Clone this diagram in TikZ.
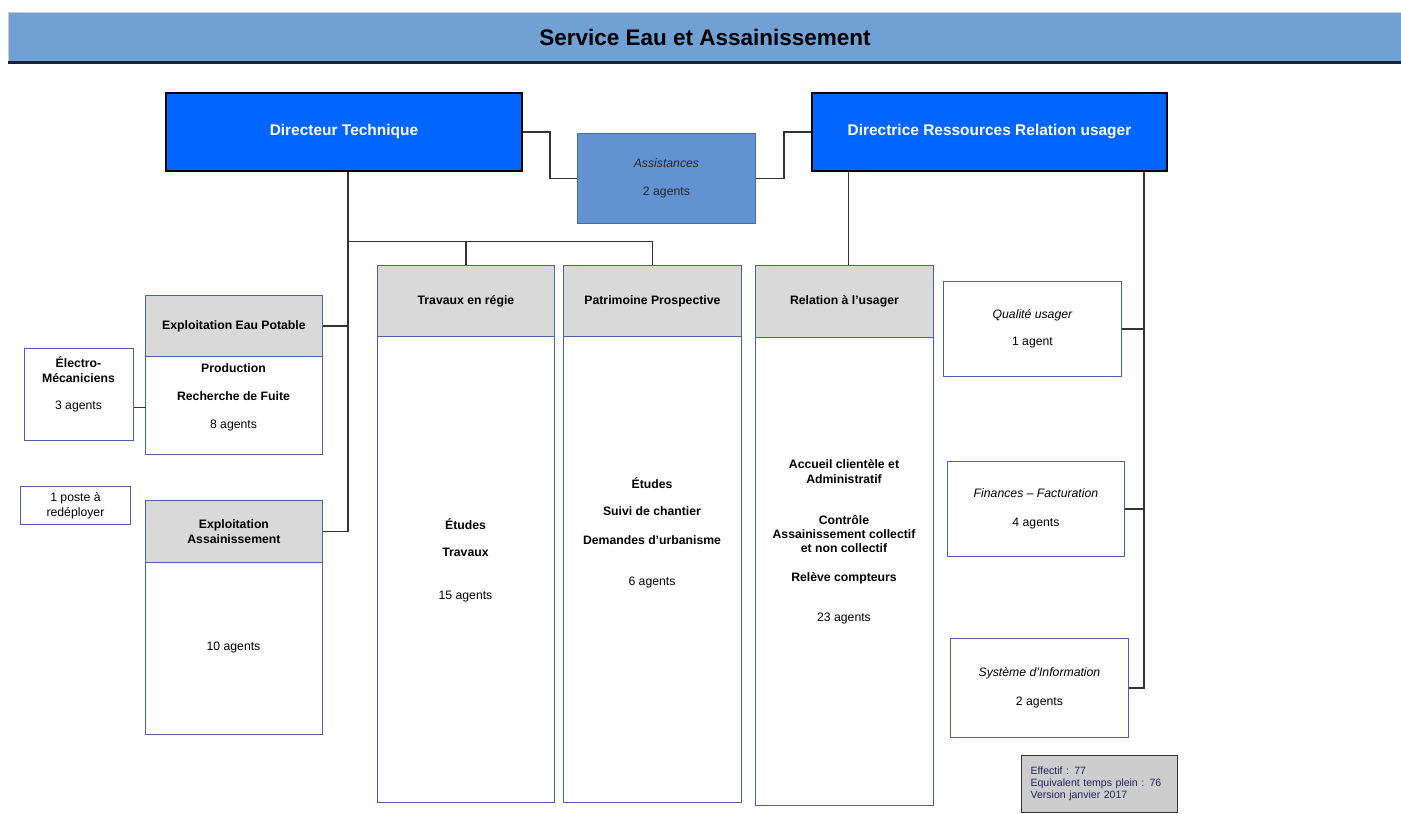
\documentclass[tikz,border=0pt]{standalone}
\usepackage{fontspec}
\setmainfont{Liberation Sans}
\usetikzlibrary{calc}

\definecolor{bandblue}{RGB}{113,160,212}
\definecolor{bandline}{RGB}{25,35,60}
\definecolor{chiefblue}{RGB}{0,102,255}
\definecolor{assistblue}{RGB}{98,147,208}
\definecolor{assistline}{RGB}{70,110,170}
\definecolor{unitline}{RGB}{75,95,170}
\definecolor{headgray}{RGB}{217,217,217}
\definecolor{notegray}{RGB}{205,205,205}
\definecolor{notetext}{RGB}{30,40,90}

\begin{document}
\begin{tikzpicture}[x=0.025cm,y=-0.025cm,
    every node/.style={font=\fontsize{8.7}{10.5}\selectfont, align=center, inner sep=0pt},
    link/.style={draw=black!80, line width=0.9pt},
    chief/.style={draw=black, line width=1.3pt, fill=chiefblue, text=white,
                  font=\bfseries\fontsize{11}{13}\selectfont},
    unit/.style={draw=unitline, line width=0.6pt, fill=white},
    head/.style={draw=unitline, line width=0.6pt, fill=headgray,
                 font=\bfseries\fontsize{8.7}{10.5}\selectfont},
    task/.style={font=\bfseries\fontsize{8.7}{10.5}\selectfont}]

  \useasboundingbox (0,0) rectangle (1401,814);

  % bandeau titre
  \node[fill=bandblue, draw=gray!40, anchor=north west, minimum width=34.825cm, minimum height=1.25cm,
        font=\bfseries\fontsize{16}{18}\selectfont] (title) at (8,12) {Service Eau et Assainissement};
  \draw[bandline, line width=2pt] (title.south west) -- (title.south east);

  % direction
  \node[chief, anchor=north west, minimum width=8.9cm, minimum height=1.95cm] (dirT) at (165,92) {Directeur Technique};
  \node[chief, anchor=north west, minimum width=8.875cm, minimum height=1.95cm] (dirR) at (811,92) {Directrice Ressources Relation usager};
  \node[fill=assistblue, draw=assistline, line width=0.6pt, anchor=north west, minimum width=4.45cm, minimum height=2.25cm,
        text=black!85] (assist) at (577,133) {\itshape Assistances\\[9pt]2 agents};

  % pole technique
  \node[unit, anchor=north west, minimum width=4.425cm, minimum height=3.975cm] (eauP) at (145,295) {};
  \node[head, anchor=north, minimum width=4.425cm, minimum height=1.525cm] (eauHd) at (eauP.north) {Exploitation Eau Potable};
  \node[task] (eauTx) at (233.5,397.5) {Production\\[9.5pt]Recherche de Fuite\\[9.5pt]\mdseries 8 agents};

  \node[unit, anchor=north west, minimum width=2.725cm, minimum height=2.3cm] (electro) at (24,348) {};
  \node[task] (electroTx) at (78.5,384.5) {Électro-\\Mécaniciens\\[9pt]\mdseries 3 agents};

  \node[unit, anchor=north west, minimum width=2.75cm, minimum height=0.95cm] (poste) at (20,486) {1 poste à\\redéployer};

  \node[unit, anchor=north west, minimum width=4.425cm, minimum height=5.85cm] (assain) at (145,500) {};
  \node[head, anchor=north, minimum width=4.425cm, minimum height=1.55cm] (assainHd) at (assain.north) {Exploitation\\Assainissement};
  \node (assainTx) at (233.5,647) {10 agents};

  \node[unit, anchor=north west, minimum width=4.425cm, minimum height=13.425cm] (trav) at (377,265) {};
  \node[head, anchor=north, minimum width=4.425cm, minimum height=1.775cm] (travHd) at (trav.north) {Travaux en régie};
  \node[task] (travTx) at (465.5,560) {Études\\[8.7pt]Travaux\\[20pt]\mdseries 15 agents};

  \node[unit, anchor=north west, minimum width=4.45cm, minimum height=13.425cm] (pat) at (563,265) {};
  \node[head, anchor=north, minimum width=4.45cm, minimum height=1.775cm] (patHd) at (pat.north) {Patrimoine Prospective};
  \node[task] (patTx) at (652,533) {Études\\[8.7pt]Suivi de chantier\\[10pt]Demandes d'urbanisme\\[19pt]\mdseries 6 agents};

  % pole ressources
  \node[unit, anchor=north west, minimum width=4.45cm, minimum height=13.5cm] (rel) at (755,265) {};
  \node[head, anchor=north, minimum width=4.45cm, minimum height=1.8cm] (relHd) at (rel.north) {Relation à l'usager};
  \node[task] (relTx) at (844,542) {Accueil clientèle et\\Administratif\\[18.5pt]Contrôle\\Assainissement collectif\\[-1pt]et non collectif\\[10pt]Relève compteurs\\[18.5pt]\mdseries 23 agents};

  \node[unit, anchor=north west, minimum width=4.45cm, minimum height=2.375cm] (qualite) at (943,281) {\itshape Qualité usager\\[8.7pt]1 agent};
  \node[unit, anchor=north west, minimum width=4.425cm, minimum height=2.375cm] (finances) at (947,461) {\itshape Finances -- Facturation\\[10pt]4 agents};
  \node[unit, anchor=north west, minimum width=4.45cm, minimum height=2.475cm] (systeme) at (950,638) {\itshape Système d'Information\\[10pt]2 agents};

  \node[fill=notegray, draw=black!80, line width=0.8pt, anchor=north west, minimum width=3.9cm, minimum height=1.425cm,
        text width=3.45cm, align=left, text=notetext, font=\fontsize{7.5}{8.5}\selectfont] (effectif) at (1021,755)
        {Effectif : 77\\Equivalent temps plein : 76\\Version janvier 2017};

  % liaisons
  \draw[link] (dirT.east) -- ++(27,0) |- (assist.west);
  \draw[link] (assist.east) -- ++(28,0) |- (dirR.west);
  \coordinate (ltrunk) at ($(dirT.south)+(4,0)$);
  \draw[link] (ltrunk) |- (assainHd.east);
  \draw[link] (eauHd.east) -- (eauHd.east -| ltrunk);
  \coordinate (fork) at ($(ltrunk)+(0,70)$);
  \draw[link] (fork) -| (travHd.north);
  \draw[link] (fork) -| (patHd.north);
  \draw[link] ($(electro.east)+(0,13)$) -- ++(12,0);

  \coordinate (rdrop) at ($(relHd.north)+(4,0)$);
  \draw[link] (rdrop) -- (rdrop |- dirR.south);
  \coordinate (rtrunk) at ($(dirR.south east)+(-24,0)$);
  \draw[link] (rtrunk) |- (systeme.east);
  \draw[link] (qualite.east) -- (qualite.east -| rtrunk);
  \draw[link] (finances.east) -- (finances.east -| rtrunk);
\end{tikzpicture}
\end{document}
